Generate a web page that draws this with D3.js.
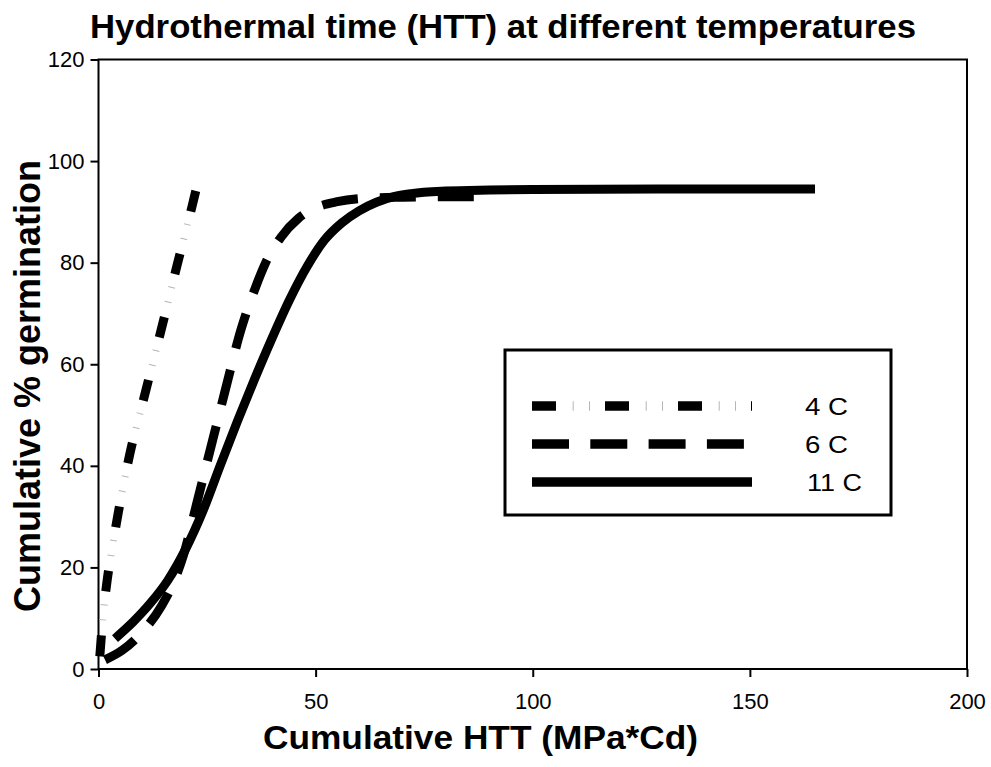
<!DOCTYPE html>
<html>
<head>
<meta charset="utf-8">
<script src="https://cdn.jsdelivr.net/npm/d3@7"></script>
<style>
  html, body { margin: 0; padding: 0; background: #fff; }
  svg { display: block; font-family: "Liberation Sans", Arial, sans-serif; }
</style>
</head>
<body>
<svg id="chart" width="991" height="767"></svg>
<script>
// ---- data ----
const title = "Hydrothermal time (HTT) at different temperatures";
const xTitle = "Cumulative HTT (MPa*Cd)";
const yTitle = "Cumulative % germination";
const xTicks = [0, 50, 100, 150, 200];
const yTicks = [0, 20, 40, 60, 80, 100, 120];
const seriesNames = ["4 C", "6 C", "11 C"];

const htt4C  = [0.3, 1, 2, 3, 4.5, 7, 10.8, 14.5, 18.1, 21.8, 22.5];
const germ4C = [2.5, 10, 17.5, 23, 30.5, 41.5, 54.5, 67, 79.5, 92, 94.5];

const htt6C  = [1.5, 5.5, 10, 14.5, 17, 19.6, 22.6, 25.5, 28.1, 30.4, 32.2, 34, 36.1, 38.5, 42, 46, 50, 55, 62, 70, 80, 88];
const germ6C = [1.8, 3.7, 7.2, 12.4, 16.5, 22.5, 32.5, 42.4, 51.2, 59, 65, 70, 75, 80, 85, 88.7, 90.8, 92, 92.7, 92.9, 93, 93];

const htt11C  = [3.8, 8, 12, 16, 20, 24, 28, 32, 36, 40, 44, 48, 52, 56, 60, 64, 68, 72, 80, 90, 100, 130, 165];
const germ11C = [6, 9.3, 13, 17.5, 23.5, 31, 40, 48.8, 57.2, 65.2, 72.7, 79.2, 84.4, 87.8, 90.2, 91.9, 93, 93.6, 94.1, 94.3, 94.4, 94.5, 94.5];

// ---- layout ----
const svg = d3.select("#chart");
const L = 98.5, R = 967, T = 59.5, B = 669;
const x = d3.scaleLinear().domain([0, 200]).range([L, R]);
const y = d3.scaleLinear().domain([0, 120]).range([B, T]);

// title
svg.append("text").attr("x", 503).attr("y", 38).attr("text-anchor", "middle")
  .attr("font-size", 34).attr("font-weight", "bold")
  .attr("textLength", 826).attr("lengthAdjust", "spacingAndGlyphs").text(title);

// frame
svg.append("rect").attr("x", L).attr("y", T).attr("width", R - L).attr("height", B - T)
  .attr("fill", "none").attr("stroke", "#000").attr("stroke-width", 2);

// axes
const xAxis = d3.axisBottom(x).tickValues(xTicks).tickSize(8).tickPadding(16).tickFormat(d3.format("d"));
const gx = svg.append("g").attr("transform", `translate(0,${B})`).call(xAxis);
gx.select(".domain").remove();
gx.selectAll("line").attr("stroke-width", 2);
gx.selectAll("text").style("font-size", "22px").style("font-family", "Liberation Sans, Arial, sans-serif").attr("fill", "#000");

const yAxis = d3.axisLeft(y).tickValues(yTicks).tickSize(8).tickPadding(6).tickFormat(d3.format("d"));
const gy = svg.append("g").attr("transform", `translate(${L},0)`).call(yAxis);
gy.select(".domain").remove();
gy.selectAll("line").attr("stroke-width", 2);
gy.selectAll("text").style("font-size", "22px").style("font-family", "Liberation Sans, Arial, sans-serif").attr("fill", "#000");

// axis titles
svg.append("text").attr("x", 480.5).attr("y", 749).attr("text-anchor", "middle")
  .attr("font-size", 34).attr("font-weight", "bold")
  .attr("textLength", 435).attr("lengthAdjust", "spacingAndGlyphs").text(xTitle);
svg.append("text").attr("transform", "translate(40,386) rotate(-90)").attr("text-anchor", "middle")
  .attr("font-size", 36).attr("font-weight", "bold").text(yTitle);

// lines
const line = d3.line().x(d => x(d[0])).y(d => y(d[1])).curve(d3.curveMonotoneX);
const d4 = htt4C.map((v, i) => [v, germ4C[i]]);
const d6 = htt6C.map((v, i) => [v, germ6C[i]]);
const d11 = htt11C.map((v, i) => [v, germ11C[i]]);

const plot = svg.append("g");
plot.append("path").attr("d", line(d11)).attr("fill", "none").attr("stroke", "#000")
  .attr("stroke-width", 9);
plot.append("path").attr("d", line(d6)).attr("fill", "none").attr("stroke", "#000")
  .attr("stroke-width", 9).attr("stroke-dasharray", "36 22");
plot.append("path").attr("d", line(d4)).attr("fill", "none").attr("stroke", "#000")
  .attr("stroke-width", 9).attr("stroke-dasharray", "21 44");
plot.append("path").attr("d", line(d4)).attr("fill", "none").attr("stroke", "#b5b5b5")
  .attr("stroke-width", 7).attr("stroke-dasharray", "0 36 1 14 1 13");

// legend
svg.append("rect").attr("x", 505).attr("y", 350).attr("width", 386).attr("height", 165)
  .attr("fill", "#fff").attr("stroke", "#000").attr("stroke-width", 3);
const legRows = [406, 444, 482];
const lg = svg.append("g");
const lx0 = 532, lx1 = 752;
// 4 C
lg.append("line").attr("x1", lx0).attr("x2", lx1).attr("y1", legRows[0]).attr("y2", legRows[0])
  .attr("stroke", "#000").attr("stroke-width", 9.5).attr("stroke-dasharray", "24 49");
lg.append("line").attr("x1", lx0).attr("x2", lx1).attr("y1", legRows[0]).attr("y2", legRows[0])
  .attr("stroke", "#b5b5b5").attr("stroke-width", 9.5).attr("stroke-dasharray", "0 40.7 1 15.3 1 15");
// 6 C
lg.append("line").attr("x1", lx0).attr("x2", lx1).attr("y1", legRows[1]).attr("y2", legRows[1])
  .attr("stroke", "#000").attr("stroke-width", 9.5).attr("stroke-dasharray", "37 21.3");
// 11 C
lg.append("line").attr("x1", lx0).attr("x2", lx1).attr("y1", legRows[2]).attr("y2", legRows[2])
  .attr("stroke", "#000").attr("stroke-width", 9.5);
seriesNames.forEach((s, i) => {
  lg.append("text").attr("x", i === 2 ? 807 : 805).attr("y", legRows[i] + 9)
    .attr("font-size", 24)
    .attr("textLength", i === 2 ? 55 : 43).attr("lengthAdjust", "spacingAndGlyphs")
    .text(s);
});
</script>
</body>
</html>
